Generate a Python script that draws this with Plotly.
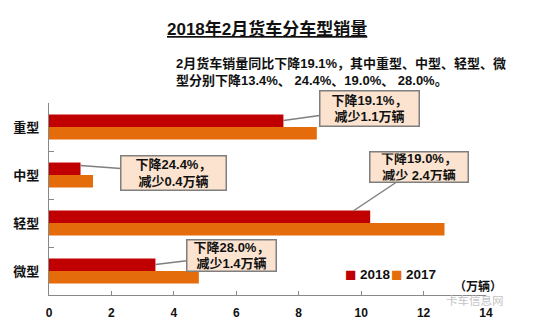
import plotly.graph_objects as go

categories = ["重型", "中型", "轻型", "微型"]
sales_2018 = [7.51, 1.01, 10.29, 3.41]
sales_2017 = [8.58, 1.41, 12.67, 4.80]
x_ticks = [0, 2, 4, 6, 8, 10, 12, 14]
callout_texts = ["下降19.1%，<br>减少1.1万辆", "下降24.4%，<br>减少0.4万辆",
                 "下降19.0%，<br>减少 2.4万辆", "下降28.0%，<br>减少1.4万辆"]
title_text = "2018年2月货车分车型销量"
subtitle_text = "2月货车销量同比下降19.1%，其中重型、中型、轻型、微<br>型分别下降13.4%、 24.4%、19.0%、 28.0%。"
series_names = ["2018", "2017"]

FONT = "Arial, 'Liberation Sans', 'Noto Sans CJK SC', sans-serif"
RED = "#C00000"
ORANGE = "#E46C0A"
COLORS = [RED, ORANGE]

L, R, T, B = 49, 64, 103, 29
W, H = 550, 324
PW, PH = W - L - R, H - T - B


def px(xp):
    return (xp - L) / PW


def py(yp):
    return (H - B - yp) / PH


fig = go.Figure()
for name, vals, col in zip(series_names, [sales_2018, sales_2017], COLORS):
    fig.add_trace(go.Bar(y=categories, x=vals, name=name, orientation="h",
                         marker=dict(color=col, line=dict(width=0))))

# callout geometry: box offset from arrow head (ax, ay), head shift (xs, ys), box size (w, h)
callout_geo = [
    dict(ax=86, ay=-12, xs=0, ys=6.5, w=101, h=37),
    dict(ax=93, ay=7, xs=0, ys=9.5, w=107, h=36),
    dict(ax=66, ay=-44, xs=-17, ys=12, w=100, h=32),
    dict(ax=76, ay=-9, xs=0, ys=6.5, w=91, h=33),
]
PAD, BW = 1, 1.5
annotations = []
for cat, val, txt, g in zip(categories, sales_2018, callout_texts, callout_geo):
    annotations.append(dict(
        x=val, y=cat, xref="x", yref="y", text="<b>" + txt + "</b>",
        showarrow=True, arrowhead=0, arrowwidth=1.5, arrowcolor="#7F7F7F",
        ax=g["ax"], ay=g["ay"], xshift=g["xs"], yshift=g["ys"], align="center",
        width=g["w"] - 2 * PAD - 2 * BW, height=g["h"] - 2 * PAD - 2 * BW,
        valign="middle",
        bgcolor="#FBE3CF", bordercolor="#7F7F7F", borderwidth=BW, borderpad=PAD,
        font=dict(family=FONT, size=13, color="#111111")))

annotations.append(dict(
    x=px(267), y=py(29), xref="paper", yref="paper", xanchor="center", yanchor="middle",
    text=title_text, showarrow=False,
    font=dict(family=FONT, size=17, color="#111111", weight="bold", lineposition="under")))

annotations.append(dict(
    x=px(174), y=py(71.5), xref="paper", yref="paper",
    xanchor="left", yanchor="middle", align="left", text="<b>" + subtitle_text + "</b>",
    showarrow=False, font=dict(family=FONT, size=13, color="#111111")))

annotations.append(dict(
    x=px(478), y=py(286), xref="paper", yref="paper",
    xanchor="center", yanchor="middle", text="<b>（万辆）</b>", showarrow=False,
    font=dict(family=FONT, size=12, color="#111111")))

annotations.append(dict(
    x=px(506), y=py(300.5), xref="paper", yref="paper",
    xanchor="right", yanchor="middle", text="卡车信息网", showarrow=False,
    font=dict(family=FONT, size=11.5, color="#C4C4C4")))

# legend drawn as text: coloured square + label per series
legend_x = [(350.5, 358), (396.5, 404)]
for name, col, (sx, tx) in zip(series_names, COLORS, legend_x):
    annotations.append(dict(
        x=px(sx), y=py(274), xref="paper", yref="paper", xanchor="center", yanchor="middle",
        text="■", showarrow=False, font=dict(family="'Liberation Sans'", size=19, color=col)))
    annotations.append(dict(
        x=px(tx), y=py(274), xref="paper", yref="paper", xanchor="left", yanchor="middle",
        text="<b>" + name + "</b>", showarrow=False,
        font=dict(family=FONT, size=13.5, color="#111111")))

fig.update_layout(
    width=W, height=H,
    margin=dict(l=L, r=R, t=T, b=B, autoexpand=False),
    paper_bgcolor="white", plot_bgcolor="white",
    barmode="group", bargap=0.48, bargroupgap=0,
    font=dict(family=FONT, size=12, color="#111111"),
    showlegend=False,
    annotations=annotations,
)
fig.update_xaxes(range=[0, 14], tickvals=x_ticks, ticktext=[str(t) for t in x_ticks],
                 showgrid=False, zeroline=False, showline=True, linecolor="#888888",
                 linewidth=1.2, ticks="inside", ticklen=4, tickcolor="#888888",
                 ticklabelstandoff=6, automargin=False,
                 tickfont=dict(family=FONT, size=12, color="#111111", weight="bold"))
fig.update_yaxes(range=[3.5, -0.5], categoryorder="array", categoryarray=categories,
                 showgrid=False, zeroline=False, showline=True, linecolor="#888888",
                 linewidth=1.2, ticks="inside", ticklen=5, tickcolor="#888888",
                 tickson="boundaries", ticklabelstandoff=6, automargin=False,
                 tickfont=dict(family=FONT, size=13, color="#111111", weight="bold"))

fig.write_html("out.html")
